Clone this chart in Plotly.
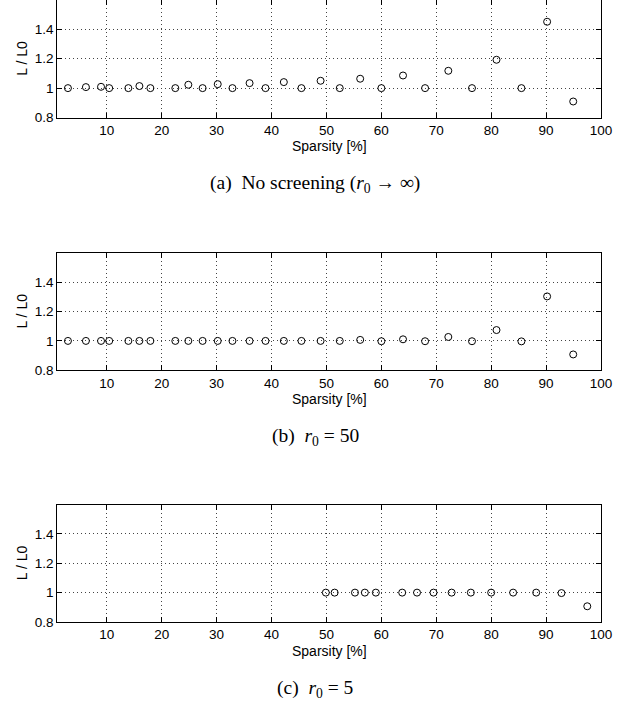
import plotly.graph_objects as go

# ---------------- data ----------------
sparsity_ab = [2.94, 6.21, 8.96, 10.45, 13.94, 15.95, 17.95, 22.49, 24.86, 27.46,
               30.21, 32.89, 36.01, 38.91, 42.25, 45.45, 48.94, 52.43, 56.15, 60.01,
               63.95, 67.97, 72.20, 76.51, 80.97, 85.51, 90.19, 94.94]
ratio_a = [1.0, 1.007, 1.009, 1.0, 1.0, 1.014, 1.0, 1.0, 1.023, 1.0,
           1.027, 1.0, 1.034, 1.0, 1.041, 1.0, 1.05, 1.0, 1.064, 1.0,
           1.086, 1.0, 1.118, 1.0, 1.193, 1.0, 1.452, 0.909]
ratio_b = [1.0, 1.0, 1.0, 1.0, 1.0, 1.0, 1.0, 1.0, 1.0, 1.0,
           1.0, 1.0, 1.0, 1.0, 1.0, 1.0, 1.0, 1.0, 1.007, 0.998,
           1.011, 0.998, 1.027, 0.998, 1.074, 0.997, 1.303, 0.908]
sparsity_c = [49.9, 51.5, 55.2, 57.0, 59.0, 63.8, 66.5, 69.5, 72.8, 76.3,
              80.0, 84.0, 88.2, 92.8, 97.5]
ratio_c = [1.0, 1.0, 1.0, 1.0, 1.0, 1.0, 1.0, 1.0, 1.0, 1.0,
           1.0, 1.0, 1.0, 0.997, 0.907]

x_tickvals = [10, 20, 30, 40, 50, 60, 70, 80, 90, 100]
x_ticktext = ["10", "20", "30", "40", "50", "60", "70", "80", "90", "100"]
y_tickvals = [0.8, 1.0, 1.2, 1.4]
y_ticktext = ["0.8", "1", "1.2", "1.4"]
x_title = "Sparsity [%]"
y_title = "L / L0"
captions = ["(a)\u2002No screening (<i>r</i><sub>0</sub>\u2005\u2192\u2005\u221e)",
            "(b)\u2002<i>r</i><sub>0</sub>\u2005=\u200550",
            "(c)\u2002<i>r</i><sub>0</sub>\u2005=\u20055"]

# ---------------- layout geometry ----------------
W, H = 640, 704
tops = [0.0, 252.8, 504.5]
ph = 117.5
left_px, right_px = 57.3, 601.0

sans = "Liberation Sans, Arial, Helvetica, sans-serif"
serif = "Liberation Serif, Times New Roman, serif"

fig = go.Figure()
series = [(sparsity_ab, ratio_a), (sparsity_ab, ratio_b), (sparsity_c, ratio_c)]
annotations = []
for i, (xs, ys) in enumerate(series):
    n = "" if i == 0 else str(i + 1)
    fig.add_trace(go.Scatter(
        x=xs, y=ys, mode="markers", xaxis="x" + n, yaxis="y" + n,
        marker=dict(symbol="circle-open", size=7, color="black",
                    line=dict(width=1, color="black")),
        showlegend=False, hoverinfo="x+y"))
    top = tops[i]
    bottom = top + ph
    axis_common = dict(
        showline=True, linecolor="black", linewidth=1, mirror="ticks",
        ticks="inside", ticklen=5, tickwidth=1, tickcolor="black",
        showgrid=True, gridcolor="#444444", gridwidth=1, griddash="1px,3px",
        zeroline=False, fixedrange=True, automargin=False,
        tickfont=dict(family=sans, size=13.5, color="black"),
    )
    fig.update_layout(**{
        "xaxis" + n: dict(axis_common, domain=[left_px / W, right_px / W],
                          range=[1, 100], tickvals=x_tickvals, ticktext=x_ticktext,
                          anchor="y" + n),
        "yaxis" + n: dict(axis_common, domain=[1 - bottom / H, 1 - top / H],
                          range=[0.8, 1.6], tickvals=y_tickvals, ticktext=y_ticktext,
                          anchor="x" + n),
    })
    annotations.append(dict(
        text=x_title, xref="paper", yref="paper",
        x=(left_px + right_px) / 2 / W, y=1 - (top + 146) / H,
        xanchor="center", yanchor="middle", showarrow=False,
        font=dict(family=sans, size=14, color="black")))
    annotations.append(dict(
        text=y_title, xref="paper", yref="paper", textangle=-90,
        x=22 / W, y=1 - (top + ph / 2) / H,
        xanchor="center", yanchor="middle", showarrow=False,
        font=dict(family=sans, size=14, color="black")))
    annotations.append(dict(
        text=captions[i], xref="paper", yref="paper",
        x=315 / W, y=1 - (top + 184) / H,
        xanchor="center", yanchor="middle", showarrow=False,
        font=dict(family=serif, size=19.5, color="black")))

fig.update_layout(
    width=W, height=H, margin=dict(l=0, r=0, t=0, b=0),
    paper_bgcolor="white", plot_bgcolor="white",
    annotations=annotations, showlegend=False,
)

fig.write_html("out.html", config={"displayModeBar": False},
               post_script="document.body.style.margin='0';document.body.style.padding='0';")
